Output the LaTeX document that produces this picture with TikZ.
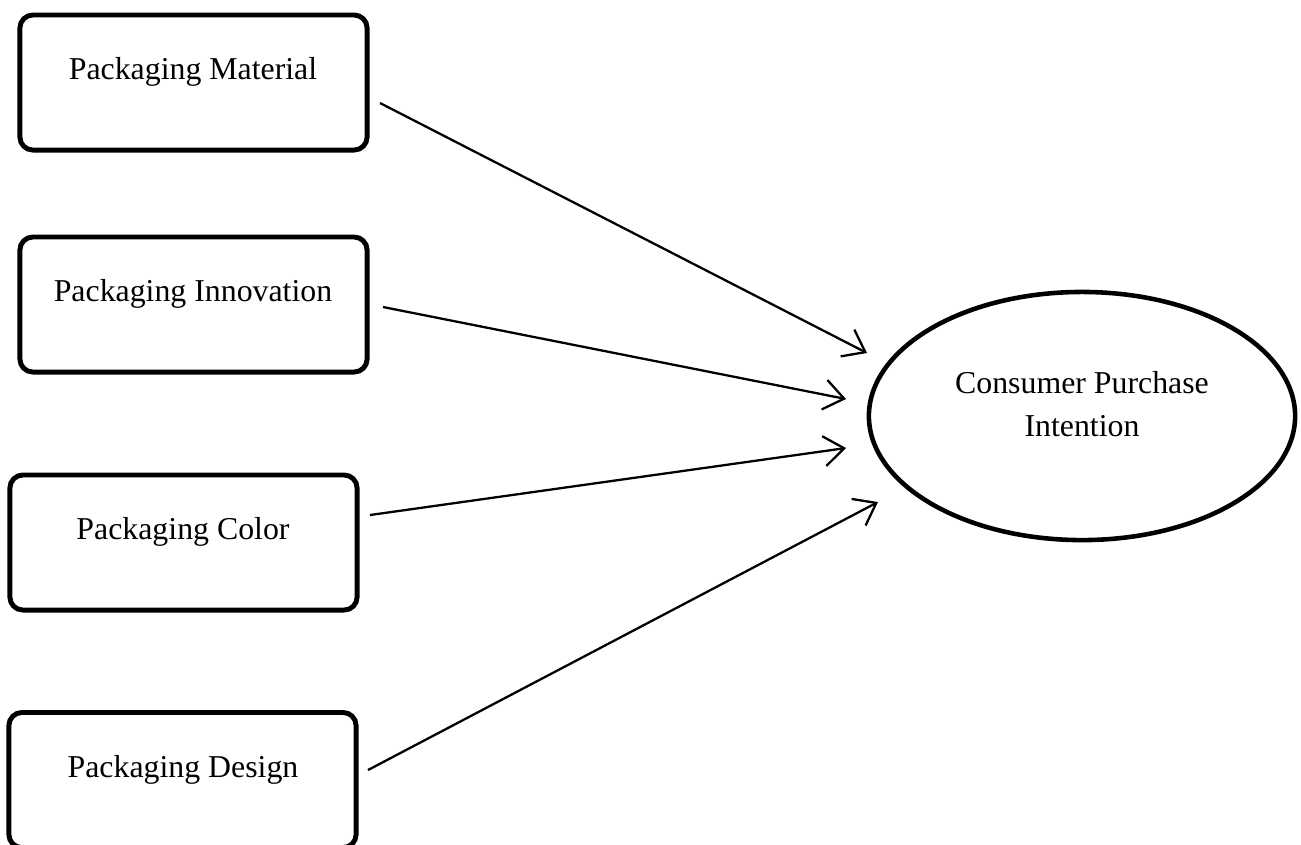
\documentclass[tikz,border=0pt]{standalone}
\usepackage{fontspec}
\setmainfont{Liberation Serif}
\usetikzlibrary{shapes.geometric,arrows.meta}
\begin{document}
\begin{tikzpicture}[x=0.01cm,y=-0.01cm,
  factorbox/.style={draw,line width=1.4pt,rounded corners=0.13cm,minimum width=3.47cm,minimum height=1.35cm,inner sep=0pt},
  lbl/.style={font=\fontsize{9.05}{12.2}\selectfont,inner sep=0pt,align=center},
  conn/.style={line width=0.65pt,-{Straight Barb[length=0.2cm,width=0.3cm,line width=0.65pt]}}]
\useasboundingbox (0,0) rectangle (1301,844);
\node[factorbox] (b1) at (193.5,82.5) {};
\node[factorbox] (b2) at (193.5,304.5) {};
\node[factorbox] (b3) at (183.5,542.5) {};
\node[factorbox] (b4) at (182.5,780) {};
\node[lbl] (t1) at (193,72) {Packaging Material};
\node[lbl] (t2) at (193,294) {Packaging Innovation};
\node[lbl] (t3) at (183,532) {Packaging Color};
\node[lbl] (t4) at (183,770) {Packaging Design};
\node[draw,ellipse,line width=1.3pt,minimum width=4.26cm,minimum height=2.48cm,inner sep=0pt] (cpi) at (1082,416) {};
\node[lbl] (tc) at (1082,404) {Consumer Purchase\\Intention};
\coordinate (s1) at (380,103);
\coordinate (s2) at (383,307);
\coordinate (s3) at (370,515);
\coordinate (s4) at (368,770);
\coordinate (e1) at (867,353);
\coordinate (e2) at (846,399);
\coordinate (e3) at (846,448);
\coordinate (e4) at (878,502);
\draw[conn] (s1) -- (e1);
\draw[conn] (s2) -- (e2);
\draw[conn] (s3) -- (e3);
\draw[conn] (s4) -- (e4);
\end{tikzpicture}
\end{document}
